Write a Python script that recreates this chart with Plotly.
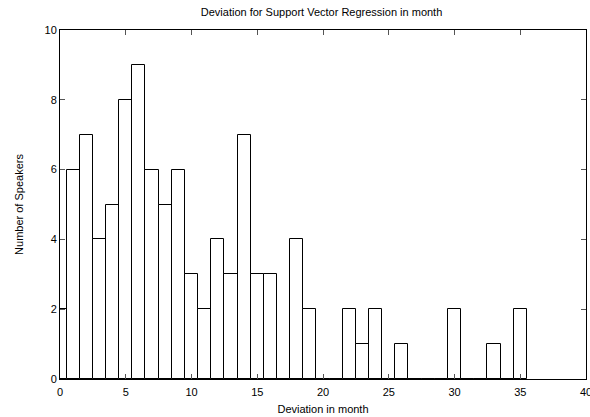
import plotly.graph_objects as go

deviation = list(range(0, 36))
speakers = [2, 6, 7, 4, 5, 8, 9, 6, 5, 6, 3, 2, 4, 3, 7, 3, 3, 0, 4, 2,
            0, 0, 2, 1, 2, 0, 1, 0, 0, 0, 2, 0, 0, 1, 0, 2]

x_ticks = [0, 5, 10, 15, 20, 25, 30, 35, 40]
y_ticks = [0, 2, 4, 6, 8, 10]

FONT = "Liberation Sans, Arial, Helvetica, sans-serif"

fig = go.Figure()
fig.add_trace(go.Bar(
    x=deviation, y=speakers, width=1,
    marker=dict(color="white", line=dict(color="black", width=1)),
    showlegend=False,
))

axis_common = dict(
    showgrid=False, zeroline=False, showline=True, linecolor="black", linewidth=1,
    ticks="inside", ticklen=5, tickcolor="#555555", mirror="ticks",
    tickfont=dict(family=FONT, size=11, color="black"),
    automargin=False, ticklabeloverflow="allow",
)

fig.update_layout(
    width=590, height=417,
    margin=dict(l=60, r=4, t=30, b=38),
    paper_bgcolor="white", plot_bgcolor="white",
    bargap=0,
    title=dict(text="Deviation for Support Vector Regression in month",
               font=dict(family=FONT, size=11, color="black"),
               x=0.545, xanchor="center", y=0.972, yanchor="middle"),
    xaxis=dict(range=[0, 40], tickvals=x_ticks, ticklabelstandoff=3,
               title=dict(text="Deviation in month", font=dict(family=FONT, size=11, color="black"), standoff=8),
               **axis_common),
    yaxis=dict(range=[0, 10], tickvals=y_ticks,
               title=dict(text="Number of Speakers", font=dict(family=FONT, size=11, color="black"), standoff=18),
               **axis_common),
)

fig.write_html("out.html", config={"displayModeBar": False},
               post_script="document.body.style.margin='0';document.body.style.overflow='hidden';")
